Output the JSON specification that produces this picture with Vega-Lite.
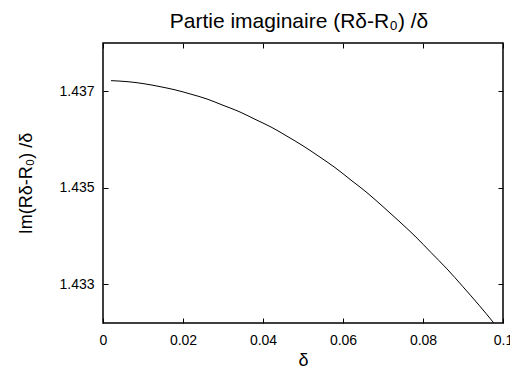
{
  "$schema": "https://vega.github.io/schema/vega-lite/v6.json",
  "width": 400,
  "height": 280,
  "autosize": "none",
  "padding": {"left": 103, "top": 43, "right": 7, "bottom": 45},
  "background": "white",
  "title": {
    "text": "Partie imaginaire (Rδ-R₀) /δ",
    "font": "Liberation Sans",
    "fontSize": 21,
    "fontWeight": "normal",
    "color": "black",
    "anchor": "middle",
    "frame": "group",
    "baseline": "alphabetic",
    "offset": -6,
    "dx": -4
  },
  "config": {
    "view": {"stroke": "black", "strokeWidth": 1.5},
    "axis": {
      "domain": false,
      "grid": false,
      "tickColor": "black",
      "tickSize": -5,
      "tickWidth": 1,
      "labelFont": "Liberation Sans",
      "labelFontSize": 14,
      "labelColor": "black",
      "titleFont": "Liberation Sans",
      "titleFontSize": 18,
      "titleFontWeight": "normal",
      "titleColor": "black"
    }
  },
  "data": {
    "values": [
      {"delta": 0.002, "im": 1.43722},
      {"delta": 0.006, "im": 1.43720},
      {"delta": 0.010, "im": 1.43716},
      {"delta": 0.014, "im": 1.43710},
      {"delta": 0.018, "im": 1.43703},
      {"delta": 0.022, "im": 1.43694},
      {"delta": 0.026, "im": 1.43684},
      {"delta": 0.030, "im": 1.43671},
      {"delta": 0.034, "im": 1.43658},
      {"delta": 0.038, "im": 1.43642},
      {"delta": 0.042, "im": 1.43626},
      {"delta": 0.046, "im": 1.43607},
      {"delta": 0.050, "im": 1.43587},
      {"delta": 0.054, "im": 1.43565},
      {"delta": 0.058, "im": 1.43542},
      {"delta": 0.062, "im": 1.43516},
      {"delta": 0.066, "im": 1.43490},
      {"delta": 0.070, "im": 1.43461},
      {"delta": 0.074, "im": 1.43431},
      {"delta": 0.078, "im": 1.43400},
      {"delta": 0.082, "im": 1.43366},
      {"delta": 0.086, "im": 1.43332},
      {"delta": 0.090, "im": 1.43295},
      {"delta": 0.094, "im": 1.43257},
      {"delta": 0.0976, "im": 1.43221},
      {"delta": 0.099, "im": 1.43206}
    ]
  },
  "resolve": {"axis": {"x": "independent", "y": "independent"}},
  "layer": [
    {
      "mark": {"type": "line", "color": "black", "strokeWidth": 1, "clip": true, "interpolate": "monotone"},
      "encoding": {
        "x": {
          "field": "delta",
          "type": "quantitative",
          "scale": {"domain": [0, 0.1], "nice": false, "zero": false},
          "axis": {
            "orient": "bottom",
            "title": "δ",
            "values": [0, 0.02, 0.04, 0.06, 0.08, 0.1],
            "format": "~g",
            "labelPadding": 15,
            "labelFlush": false,
            "labelOverlap": false,
            "titleX": 200,
            "titleY": 42,
            "titleBaseline": "alphabetic",
            "titleAlign": "center"
          }
        },
        "y": {
          "field": "im",
          "type": "quantitative",
          "scale": {"domain": [1.4322, 1.438], "nice": false, "zero": false},
          "axis": {
            "orient": "left",
            "title": "Im(Rδ-R₀) /δ",
            "values": [1.433, 1.435, 1.437],
            "format": ".3f",
            "labelPadding": 14,
            "labelFlush": false,
            "labelOverlap": false,
            "titleAngle": -90,
            "titleX": -72,
            "titleY": 140,
            "titleBaseline": "alphabetic",
            "titleAlign": "center"
          }
        }
      }
    },
    {
      "mark": {"type": "line", "strokeOpacity": 0, "clip": true},
      "encoding": {
        "x": {
          "field": "delta",
          "type": "quantitative",
          "axis": {
            "orient": "top",
            "title": null,
            "labels": false,
            "values": [0, 0.02, 0.04, 0.06, 0.08, 0.1]
          }
        },
        "y": {
          "field": "im",
          "type": "quantitative",
          "axis": {
            "orient": "right",
            "title": null,
            "labels": false,
            "values": [1.433, 1.435, 1.437]
          }
        }
      }
    }
  ]
}
